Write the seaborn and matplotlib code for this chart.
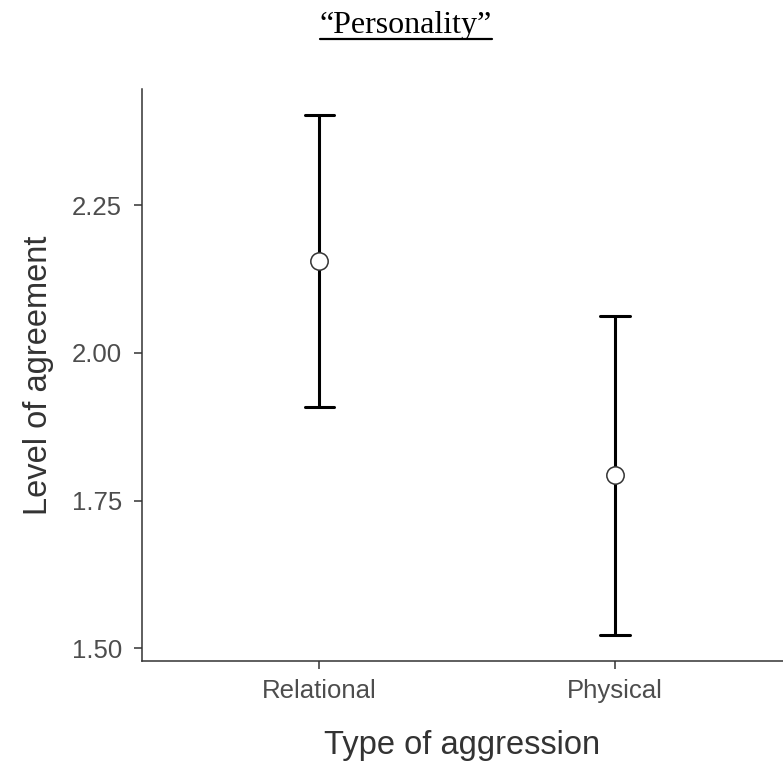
import matplotlib
matplotlib.use("Agg")
import matplotlib.pyplot as plt
import seaborn as sns
import pandas as pd
from matplotlib.lines import Line2D

# ---- data ----
categories = ["Relational", "Physical"]
means = [2.155, 1.793]
lower = [1.909, 1.522]
upper = [2.403, 2.063]
y_ticks = [1.50, 1.75, 2.00, 2.25]
y_tick_labels = ["1.50", "1.75", "2.00", "2.25"]
title_text = "\u201cPersonality\u201d"
x_label = "Type of aggression"
y_label = "Level of agreement"

# long-form table: median of (lower, mean, upper) = mean, full range = CI
rows = []
for c, lo, m, hi in zip(categories, lower, means, upper):
    for v in (lo, m, hi):
        rows.append({"type": c, "value": v})
df = pd.DataFrame(rows)

sns.set_theme(style="white")
plt.rcParams["font.family"] = ["Liberation Sans", "DejaVu Sans"]

W, H = 783, 764
fig = plt.figure(figsize=(W / 100, H / 100), dpi=100)
ax = fig.add_axes([142 / W, 1 - 660.7 / H, (W - 142) / W, (660.7 - 89) / H])

sns.pointplot(
    data=df, x="type", y="value", order=categories,
    estimator="median", errorbar=("pi", 100),
    color="black", linestyle="none", marker="o",
    capsize=0.1, err_kws={"linewidth": 2.2, "zorder": 2},
    markersize=12.5, markerfacecolor="white", markeredgecolor="#333333",
    markeredgewidth=1.1, zorder=3, ax=ax,
)

ax.set_xlim(-0.6, 1.568)
ax.set_ylim(1.479, 2.4463)
ax.set_yticks(y_ticks)
ax.set_yticklabels(y_tick_labels)

for s in ("top", "right"):
    ax.spines[s].set_visible(False)
for s in ("left", "bottom"):
    ax.spines[s].set_color("#333333")
    ax.spines[s].set_linewidth(1.1)

ax.tick_params(axis="both", which="both", length=5.5, width=1.1, color="#333333",
               labelcolor="#4D4D4D", labelsize=18.5, left=True, bottom=True)
ax.tick_params(axis="y", pad=9)
ax.tick_params(axis="x", pad=8)

ax.set_xlabel(x_label, fontsize=23.5, color="#333333", labelpad=19)
ax.set_ylabel(y_label, fontsize=23.5, color="#333333", labelpad=13)

t = fig.text(406 / W, 1 - 32.5 / H, title_text, ha="center", va="baseline",
             fontsize=23, family=["Liberation Serif", "DejaVu Serif"], color="black")

fig.canvas.draw()
bb = t.get_window_extent(renderer=fig.canvas.get_renderer())
uy = 1 - 38.5 / H
fig.add_artist(Line2D([bb.x0 / W, bb.x1 / W], [uy, uy], transform=fig.transFigure,
                      color="black", linewidth=1.6))

fig.savefig("out.png", dpi=100)
